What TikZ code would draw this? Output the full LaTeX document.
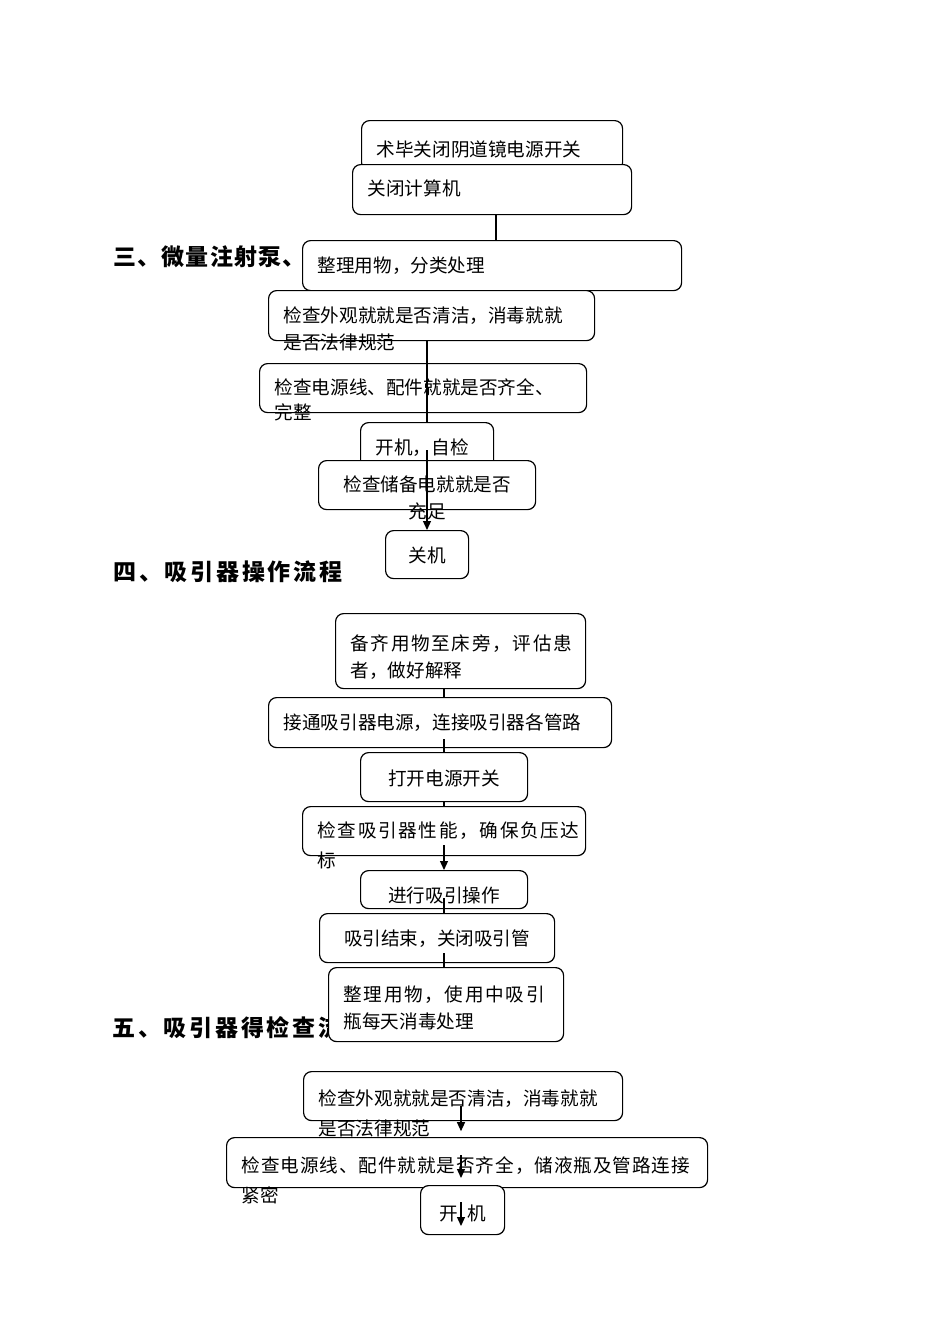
\documentclass[tikz,border=0pt]{standalone}
\usepackage{fontspec}
\usepackage{tikz}
\usetikzlibrary{calc,arrows.meta}
\definecolor{ink}{HTML}{000000}
\newfontfamily\cjk{Noto Sans CJK SC}
\newfontfamily\cjkwide[LetterSpace=9]{Noto Sans CJK SC}
\newfontfamily\cjkjust[LetterSpace=5]{Noto Sans CJK SC}
\newfontfamily\cjkhead[LetterSpace=12]{Noto Sans CJK SC}
\newfontfamily\cjkheadn[LetterSpace=5]{Noto Sans CJK SC}

\begin{document}
\begin{tikzpicture}[x=0.5pt,y=-0.5pt,
  stepbox/.style={draw=ink,line width=0.6pt,rounded corners=4pt,fill=white,anchor=north west,inner xsep=7.5pt,inner ysep=0pt,align=left,text height=16pt,text depth=9pt,font=\cjk\fontsize{9.3pt}{13.5pt}\selectfont},
  midbox/.style={stepbox,align=center},
  loose/.style={font=\cjk\fontsize{9.3pt}{15pt}\selectfont},
  headline/.style={anchor=west,inner sep=0pt,font=\cjkhead\bfseries\fontsize{11.5pt}{13pt}\selectfont},
  link/.style={draw=ink,line width=0.6pt},
  linkarr/.style={link,-{Triangle[width=4pt,length=4.5pt]}}]
\useasboundingbox (0,0) rectangle (950,1344);
% section headings
\node[headline,font=\cjkheadn\bfseries\fontsize{11.5pt}{13pt}\selectfont] (h3) at (113,257) {三、微量注射泵、};
\node[headline] (h4) at (113,572) {四、吸引器操作流程};
\node[headline] (h5) at (112,1028) {五、吸引器得检查流};
% section three
\node[stepbox,text width=115.5pt,text height=18pt,text depth=7pt] (b1) at (361,120) {术毕关闭阴道镜电源开关};
\node[stepbox,text width=124.5pt,text height=15.5pt,text depth=9.5pt] (b2) at (352,164) {关闭计算机};
\node[stepbox,text width=174.5pt] (b3) at (302,240) {整理用物，分类处理};
\node[stepbox,text width=148pt] (b4) at (268,290) {检查外观就就是否清洁，消毒就就\\是否法律规范};
\node[stepbox,text width=148.5pt,text height=15.5pt,font=\cjk\fontsize{9.3pt}{12.5pt}\selectfont] (b5) at (259,363) {检查电源线、配件就就是否齐全、\\完整};
\node[stepbox,text width=51.5pt] (b6) at (360,422) {开机，自检};
\node[midbox,text width=93.5pt,text height=15.5pt] (b7) at (318,460) {检查储备电就就是否\\充足};
\node[midbox,text width=26.5pt,text depth=8pt] (b8) at (385,530) {关机};
% section four
\node[stepbox,text width=110pt,text height=18.5pt,text depth=19pt] (b9) at (335,613) {{\cjkwide 备齐用物至床旁，评估患}\\者，做好解释};
\node[stepbox,text width=156.5pt] (b10) at (268,697) {接通吸引器电源，连接吸引器各管路};
\node[midbox,text width=68.5pt,text height=16.5pt,text depth=8pt] (b11) at (360,752) {打开电源开关};
\node[stepbox,loose,text width=126.5pt,text height=15.5pt] (b12) at (302,806) {{\cjkwide 检查吸引器性能，确保负压达}\\标};
\node[midbox,text width=68.5pt,text depth=3pt] (b13) at (360,870) {进行吸引操作};
\node[midbox,text width=102.5pt,text depth=8.5pt] (b14) at (319,913) {吸引结束，关闭吸引管};
\node[stepbox,text width=102.5pt,text height=17pt,text depth=20pt] (b15) at (328,967) {{\cjkwide 整理用物，使用中吸引}\\瓶每天消毒处理};
% section five
\node[stepbox,loose,text width=144.5pt,text height=17pt,text depth=7.5pt] (b16) at (303,1071) {检查外观就就是否清洁，消毒就就\\是否法律规范};
\node[stepbox,loose,text width=225.5pt,text height=17.5pt,text depth=7.5pt] (b17) at (226,1137) {{\cjkjust 检查电源线、配件就就是否齐全，储液瓶及管路连接}\\紧密};
\node[midbox,text width=27pt,text height=17.5pt,text depth=7pt] (b18) at (420,1185) {开\kern4.5pt 机};
% connectors
\coordinate (sp1) at (496,0);\coordinate (sp3) at (427,0);\coordinate (sp4) at (444,0);\coordinate (sp5) at (461,0);
\draw[link] (b2.south -| sp1) -- (b3.north -| sp1);
\draw[link] (b4.south -| sp3) -- (b6.north -| sp3);
\coordinate (k3) at ($(b6.north -| sp3)+(0,28)$);
\draw[linkarr] (k3) -- (b8.north -| sp3);
\coordinate (k4a) at ($(b10.south -| sp4)+(0,-9)$);
\coordinate (k4b) at ($(b12.north -| sp4)+(0,39)$);
\coordinate (k4c) at ($(b13.north -| sp4)+(0,28)$);
\coordinate (k4d) at ($(b14.south -| sp4)+(0,-10)$);
\draw[link] (b9.south -| sp4) -- (b10.north -| sp4);
\draw[link] (k4a) -- (b11.north -| sp4);
\draw[link] (b11.south -| sp4) -- (b12.north -| sp4);
\draw[linkarr] (k4b) -- (b13.north -| sp4);
\draw[link] (k4c) -- (b14.north -| sp4);
\draw[link] (k4d) -- (b15.north -| sp4);
\coordinate (k5a) at ($(b16.south -| sp5)+(0,-15)$);\coordinate (k5b) at ($(b16.south -| sp5)+(0,10)$);
\coordinate (k5c) at ($(b17.north -| sp5)+(0,18)$);\coordinate (k5d) at ($(b17.north -| sp5)+(0,41)$);
\coordinate (k5e) at ($(b18.north -| sp5)+(0,17)$);\coordinate (k5f) at ($(b18.north -| sp5)+(0,41)$);
\draw[linkarr] (k5a) -- (k5b);
\draw[linkarr] (k5c) -- (k5d);
\draw[linkarr] (k5e) -- (k5f);
\end{tikzpicture}
\end{document}
